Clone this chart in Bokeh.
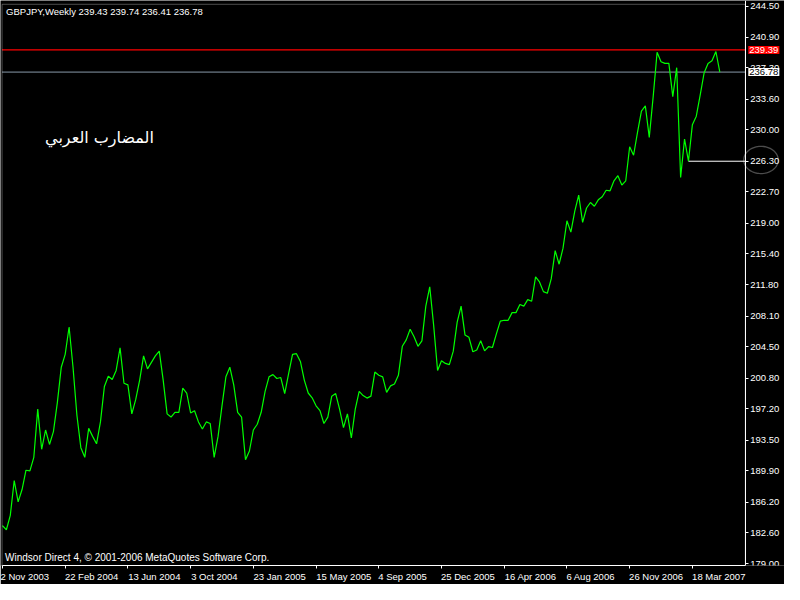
import numpy as np
from bokeh.plotting import figure
from bokeh.models import (Range1d, FixedTicker, Label, PolyAnnotation, BoxAnnotation,
                          PrintfTickFormatter, AllLabels)
from bokeh.embed import file_html
from bokeh.resources import INLINE

title_text = "GBPJPY,Weekly  239.43 239.74 236.41 236.78"
copyright_text = "Windsor Direct 4, \u00a9 2001-2006 MetaQuotes Software Corp."
arabic_text = "المضارب العربي"

# weekly closes, one per week starting 2 Nov 2003
close = [
    183.46, 182.97, 184.67, 188.76, 186.26, 187.70, 189.97, 189.90, 191.49, 197.16,
    192.43, 194.70, 193.00, 194.51, 197.92, 202.08, 203.60, 206.81, 202.08, 196.41,
    192.62, 191.49, 194.89, 193.95, 193.08, 195.65, 199.81, 201.02, 200.64, 201.70,
    204.35, 200.19, 200.00, 196.60, 198.30, 200.57, 203.41, 201.89, 202.65, 203.41,
    203.97, 200.57, 196.60, 196.22, 196.78, 196.78, 199.62, 199.05, 196.71, 196.97,
    195.65, 194.82, 195.65, 195.46, 191.49, 193.95, 197.54, 200.95, 202.08, 200.00,
    196.78, 196.22, 191.20, 192.24, 194.70, 195.38, 196.78, 199.24, 200.95, 201.21,
    200.76, 200.87, 198.98, 201.32, 203.59, 203.67, 202.76, 200.57, 199.05, 198.49,
    197.54, 196.97, 195.46, 196.22, 198.68, 198.98, 197.16, 194.97, 196.59, 193.76,
    197.16, 199.24, 198.75, 198.45, 198.68, 201.51, 201.13, 200.95, 199.13, 199.89,
    200.11, 201.13, 204.54, 205.30, 206.55, 205.67, 204.54, 205.18, 209.27, 211.54,
    207.00, 201.70, 202.84, 202.53, 202.38, 203.97, 207.38, 209.27, 205.86, 205.60,
    203.90, 204.10, 205.20, 204.00, 204.50, 204.40, 206.00, 207.50, 207.60, 207.60,
    208.50, 208.50, 209.46, 209.27, 210.03, 209.84, 212.70, 212.11, 210.97, 210.78,
    212.49, 215.78, 214.19, 216.08, 219.30, 217.97, 220.43, 222.32, 219.10, 220.80,
    221.45, 221.00, 221.76, 222.13, 222.89, 222.82, 224.00, 224.60, 223.50, 224.00,
    228.00, 227.00, 229.70, 232.20, 232.80, 229.10, 233.90, 239.10, 238.00, 237.80,
    237.80, 233.90, 237.30, 224.40, 228.90, 226.30, 230.60, 231.60, 234.10, 236.70,
    237.80, 238.10, 239.20, 236.78,
]

x_tick_idx = [0, 16, 32, 48, 64, 80, 96, 112, 128, 144, 160, 176]
x_tick_labels = ["2 Nov 2003", "22 Feb 2004", "13 Jun 2004", "3 Oct 2004",
                 "23 Jan 2005", "15 May 2005", "4 Sep 2005", "25 Dec 2005",
                 "16 Apr 2006", "6 Aug 2006", "26 Nov 2006", "18 Mar 2007"]
y_ticks = [179.00, 182.60, 186.20, 189.90, 193.50, 197.20, 200.80, 204.50, 208.10,
           211.80, 215.40, 219.00, 222.70, 226.30, 230.00, 233.60, 237.30, 240.90, 244.50]

ask_price = 239.39
last_price = 236.78
support_price = 226.30
support_bar = 175

# view geometry (data units)
X0, X1 = -0.5, 199.5          # full width incl. price-label area
AXIS_X = 189.5                # where the price axis sits
LEFT_X = -0.1
Y0, Y1 = 178.77, 245.196
TOP_Y = 244.75

FONT = "Liberation Sans"

p = figure(width=784, height=584, output_backend="svg", toolbar_location=None,
           x_range=Range1d(X0, X1), y_range=Range1d(Y0, Y1),
           y_axis_location="right",
           background_fill_color="black", border_fill_color="black",
           outline_line_color=None,
           min_border_left=0, min_border_top=0, min_border_right=0, min_border_bottom=18)

p.xgrid.visible = False
p.ygrid.visible = False

for ax in (p.xaxis[0], p.yaxis[0]):
    ax.axis_line_color = "white"
    ax.major_tick_line_color = "white"
    ax.minor_tick_line_color = None
    ax.major_tick_in = 0
    ax.major_tick_out = 3
    ax.major_label_text_color = "white"
    ax.major_label_text_font = FONT
    ax.major_label_standoff = 2

p.yaxis.ticker = FixedTicker(ticks=y_ticks)
p.yaxis.formatter = PrintfTickFormatter(format="%.2f")
p.yaxis.fixed_location = AXIS_X
p.yaxis.major_label_text_font_size = "9.5px"

# left-aligned date labels: pad on the left with non-breaking spaces of equal width
WIDTHS = {' ': 278, 'N': 722, 'o': 556, 'v': 500, 'F': 611, 'e': 556, 'b': 556,
          'J': 500, 'u': 556, 'n': 556, 'O': 778, 'c': 500, 't': 278, 'a': 556,
          'M': 833, 'y': 500, 'S': 667, 'p': 556, 'D': 722, 'A': 667, 'g': 556, 'r': 333}
def pad_left(s):
    w = sum(WIDTHS.get(ch, 556) for ch in s)
    return "\u00a0" * int(round(w / 278.0)) + s

overrides = {}
for k, (i, lab) in enumerate(zip(x_tick_idx, x_tick_labels)):
    # the first label is pushed inside the canvas by bokeh anyway
    overrides[i] = lab if k == 0 else pad_left(lab)

p.xaxis.ticker = FixedTicker(ticks=x_tick_idx)
p.xaxis.major_label_overrides = overrides
p.xaxis.major_label_policy = AllLabels()
p.xaxis.major_label_text_font_size = "9.5px"
p.xaxis.bounds = (LEFT_X, AXIS_X)

# chart border (left and top)
p.add_layout(BoxAnnotation(left=LEFT_X, right=AXIS_X, top=TOP_Y, bottom=Y0,
                           fill_color=None, line_color="white", line_width=1))

# price lines
p.segment(x0=[LEFT_X], y0=[ask_price], x1=[AXIS_X], y1=[ask_price], line_color="#ff0000", line_width=1.2)
p.segment(x0=[LEFT_X], y0=[last_price], x1=[AXIS_X], y1=[last_price], line_color="#8899aa", line_width=1)

# support trend line
p.segment(x0=[support_bar], y0=[support_price], x1=[AXIS_X], y1=[support_price],
          line_color="white", line_width=1)

# price series
p.line(list(range(len(close))), close, line_color="#00ff00", line_width=1.2)

# price labels on the axis
p.add_layout(Label(x=AXIS_X, y=ask_price, x_offset=3, text=f"{ask_price:.2f}",
                   text_color="white", text_font=FONT, text_font_size="9.5px",
                   text_baseline="middle", text_align="left",
                   background_fill_color="#ff0000", padding=1))
p.add_layout(Label(x=AXIS_X, y=last_price, x_offset=3, text=f"{last_price:.2f}",
                   text_color="black", text_font=FONT, text_font_size="9.5px",
                   text_baseline="middle", text_align="left",
                   background_fill_color="white", padding=1))

# hand-drawn ellipse around the support label
t = np.linspace(0, 2 * np.pi, 72)
cx, cy, rx, ry = 193.5, 226.45, 4.4, 1.6
p.add_layout(PolyAnnotation(xs=list(cx + rx * np.cos(t)), ys=list(cy + ry * np.sin(t)),
                            fill_color=None, line_color="white", line_width=1.3))

# texts
p.add_layout(Label(x=LEFT_X, y=TOP_Y, x_offset=4, y_offset=-2, text=title_text,
                   text_color="white", text_font=FONT, text_font_size="9.5px",
                   text_baseline="top", text_align="left"))
p.add_layout(Label(x=LEFT_X, y=Y0, x_offset=3, y_offset=3, text=copyright_text,
                   text_color="white", text_font=FONT, text_font_size="10px",
                   text_baseline="bottom", text_align="left"))
p.add_layout(Label(x=24.75, y=229.06, text=arabic_text,
                   text_color="white", text_font="DejaVu Sans", text_font_size="16px",
                   text_baseline="middle", text_align="center"))

open("out.html", "w").write(file_html(p, INLINE))
